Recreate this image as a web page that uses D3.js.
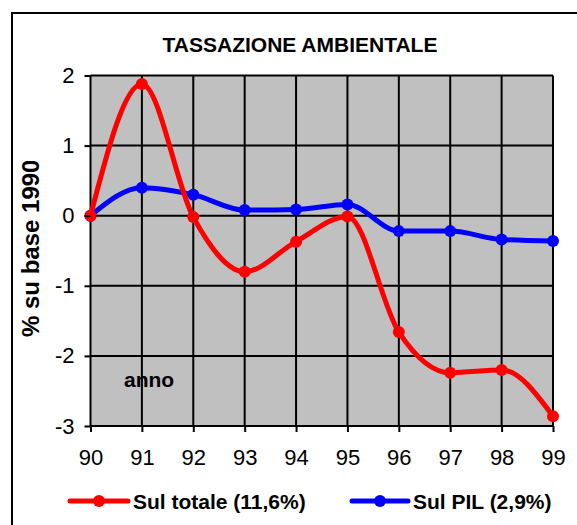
<!DOCTYPE html>
<html>
<head>
<meta charset="utf-8">
<script src="https://cdn.jsdelivr.net/npm/d3@7"></script>
<style>
  body { margin: 0; background: #fff; }
  text { font-family: Arial, "Liberation Sans", sans-serif; }
</style>
</head>
<body>
<div class="viz"></div>
<script>
var years = ["90", "91", "92", "93", "94", "95", "96", "97", "98", "99"];
var sulTotale = [0, 1.88, -0.02, -0.8, -0.37, -0.01, -1.66, -2.24, -2.2, -2.86];
var sulPil = [0, 0.4, 0.3, 0.08, 0.09, 0.16, -0.22, -0.22, -0.34, -0.36];
var yTicks = [2, 1, 0, -1, -2, -3];
var seriesNames = ["Sul totale (11,6%)", "Sul PIL (2,9%)"];

var width = 577, height = 525;
var margin = { top: 75.5, left: 90.5, right: 24, bottom: 99 };

var svg = d3.select(".viz").append("svg")
  .attr("width", width)
  .attr("height", height);

// outer frame (runs off the right and bottom of the picture)
svg.append("rect")
  .attr("x", 12).attr("y", 13)
  .attr("width", 600).attr("height", 600)
  .attr("fill", "none")
  .attr("stroke", "#000")
  .attr("stroke-width", 2);

svg.append("text")
  .attr("x", 300).attr("y", 52)
  .attr("text-anchor", "middle")
  .style("font-size", "21px")
  .style("font-weight", "bold")
  .text("TASSAZIONE AMBIENTALE");

var x = d3.scalePoint()
  .domain(years)
  .range([margin.left, width - margin.right]);

var y = d3.scaleLinear()
  .domain([-3, 2])
  .range([height - margin.bottom, margin.top]);

var g = svg.append("g");

g.append("rect")
  .attr("x", margin.left)
  .attr("y", margin.top)
  .attr("width", x.range()[1] - margin.left)
  .attr("height", y(-3) - margin.top)
  .attr("fill", "#c0c0c0");

// "anno" sits inside the plot
g.append("text")
  .attr("x", 124).attr("y", 387)
  .style("font-size", "21px")
  .style("font-weight", "bold")
  .text("anno");

// grid
g.selectAll(".vgrid")
  .data(years)
  .enter().append("line")
  .attr("x1", function (d) { return x(d); })
  .attr("x2", function (d) { return x(d); })
  .attr("y1", margin.top)
  .attr("y2", y(-3))
  .attr("stroke", "#000")
  .attr("stroke-width", 2);

g.selectAll(".hgrid")
  .data(yTicks)
  .enter().append("line")
  .attr("x1", margin.left)
  .attr("x2", x.range()[1])
  .attr("y1", function (d) { return y(d); })
  .attr("y2", function (d) { return y(d); })
  .attr("stroke", "#000")
  .attr("stroke-width", 2);

// axes
var yAxis = svg.append("g")
  .attr("transform", "translate(" + margin.left + ",0)")
  .call(d3.axisLeft(y).tickValues(yTicks).tickSize(6).tickPadding(10).tickFormat(d3.format("d")));

var xAxis = svg.append("g")
  .attr("transform", "translate(0," + y(-3) + ")")
  .call(d3.axisBottom(x).tickSize(6).tickPadding(17));

[yAxis, xAxis].forEach(function (a) {
  a.select(".domain").remove();
  a.selectAll("line").attr("stroke", "#000").attr("stroke-width", 2);
  a.selectAll("text")
    .attr("fill", "#000")
    .style("font-size", "22px")
    .style("font-family", "Arial, 'Liberation Sans', sans-serif");
});
yAxis.selectAll("text").text(function (d) { return d < 0 ? "-" + Math.abs(d) : d; });

// y axis title, clipped like the original
svg.append("clipPath").attr("id", "yclip")
  .append("rect").attr("x", 0).attr("y", 161).attr("width", 80).attr("height", 200);

svg.append("g")
  .attr("clip-path", "url(#yclip)")
  .append("text")
  .attr("transform", "translate(39,337) rotate(-90)")
  .style("font-size", "24px")
  .style("font-weight", "bold")
  .text("% su base 1990");

var line = d3.line()
  .x(function (d, i) { return x(years[i]); })
  .y(function (d) { return y(d); })
  .curve(d3.curveMonotoneX);

var series = [
  { name: seriesNames[1], values: sulPil, color: "#0000ff" },
  { name: seriesNames[0], values: sulTotale, color: "#ff0000" }
];

series.forEach(function (s) {
  g.append("path")
    .datum(s.values)
    .attr("d", line)
    .attr("fill", "none")
    .attr("stroke", s.color)
    .attr("stroke-width", 5)
    .attr("stroke-linejoin", "round");

  g.selectAll(null)
    .data(s.values)
    .enter().append("circle")
    .attr("cx", function (d, i) { return x(years[i]); })
    .attr("cy", function (d) { return y(d); })
    .attr("r", 6)
    .attr("fill", s.color);
});

// legend
var legend = svg.append("g");
var legendItems = [
  { name: seriesNames[0], color: "#ff0000", x0: 70, x1: 128, tx: 133 },
  { name: seriesNames[1], color: "#0000ff", x0: 352, x1: 408, tx: 413 }
];

legendItems.forEach(function (d) {
  legend.append("line")
    .attr("x1", d.x0).attr("x2", d.x1)
    .attr("y1", 501).attr("y2", 501)
    .attr("stroke", d.color)
    .attr("stroke-width", 5)
    .attr("stroke-linecap", "round");
  legend.append("circle")
    .attr("cx", (d.x0 + d.x1) / 2).attr("cy", 501)
    .attr("r", 6)
    .attr("fill", d.color);
  legend.append("text")
    .attr("x", d.tx).attr("y", 509)
    .style("font-size", "21px")
    .style("font-weight", "bold")
    .text(d.name);
});
</script>
</body>
</html>
